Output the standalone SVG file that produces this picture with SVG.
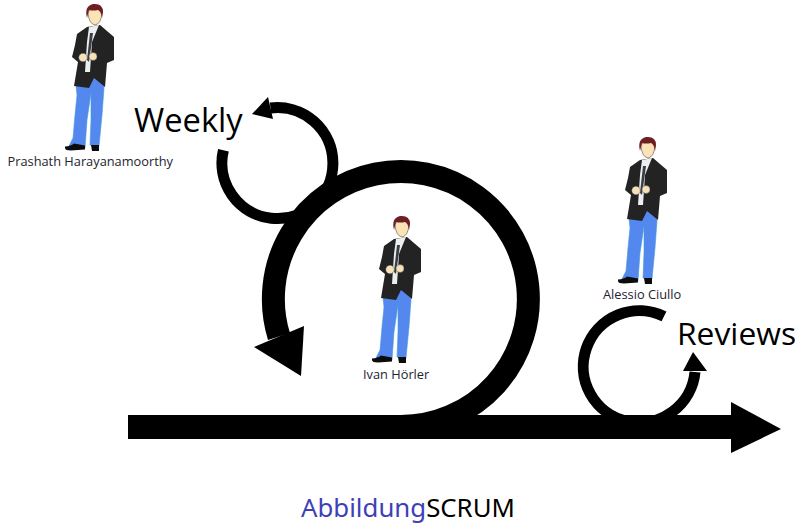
<svg xmlns="http://www.w3.org/2000/svg" width="795" height="524" viewBox="0 0 795 524">
<style>
text{font-family:"Open Sans","Noto Sans","DejaVu Sans",sans-serif;fill:#000}
.name{font-size:12.8px;fill:#1c2430}
.big{font-size:32.7px}
.rev{font-size:31.8px}
.cap{font-size:25.8px;font-family:"Noto Sans","Open Sans",sans-serif}
.arc{fill:none;stroke:#000}
.head{fill:#000}
</style>
<defs>
<g id="person">
<path d="M76 86 L77 95 L75 115 L73 138 L69 146 L85 148 L87 120 L91 93 L91 120 L90 145 L99 146 L102 115 L104 88 L103 78 L84 74 Z" fill="#5488ee" stroke="#3f9ad8" stroke-width=".6"/>
<path d="M65 146.500 Q71 146 74 143.500 L85 145.500 L85 149.500 L71 150.500 Q65 150.500 65 148 Z M91 145 L99 145 L99 151 L92 151 Z" fill="#0c0c0c"/>
<path d="M87 27 L77 34 L75 45 L72 57 L78 62 L74 86 L89 88 L94 78 L105 87 L107 63 L114 60 L114 37 L100 25 Z" fill="#232323"/>
<path d="M89 27 L99 25 L92 42 L90 72 L85 72 L87 42 Z" fill="#eceff0"/>
<path d="M90 33 L93 33 L89 62 L87 60 Z" fill="#3a3e44"/>
<path d="M88 13 Q89 24 95 25 Q101 24 102 13 L100 9 L90 9 Z" fill="#fbe3b8" stroke="#3a2a20" stroke-width=".5"/>
<path d="M87 18 Q84 6 93 4 Q103 3 103 12 L102 18 Q101 11 98 10 Q93 11 89 10 Z" fill="#6d1f22"/>
<circle cx="83" cy="57.500" r="4.300" fill="#f6e2ba" stroke="#333" stroke-width=".4"/>
<circle cx="93" cy="56.500" r="4" fill="#f6e2ba" stroke="#333" stroke-width=".4"/>
</g>
</defs>
<g id="connectors">
<rect x="128" y="415" width="604" height="24" class="head"/>
<polygon class="head" points="731,402 781,429 731,453"/>
<path class="arc" stroke-width="23" d="M401 426.500 A127.500 127.500 0 1 0 279 336.500"/>
<polygon class="head" points="254,347 304,326 301,376"/>
<path class="arc" stroke-width="11" d="M223.400 150.300 A55.500 55.500 0 1 0 270.500 108"/>
<polygon class="head" points="252,114 268,97 273,119"/>
<path class="arc" stroke-width="11" d="M664 316.400 A56 56 0 1 0 695 372"/>
<polygon class="head" points="693,352 683,371 707,371"/>
</g>
<g id="node-prashath">
<use href="#person"/>
<text class="name" x="7.500" y="166">Prashath Harayanamoorthy</text>
</g>
<g id="node-ivan">
<use href="#person" x="307" y="212"/>
<text class="name" x="363" y="379">Ivan Hörler</text>
</g>
<g id="node-alessio">
<use href="#person" x="553" y="133"/>
<text class="name" x="603" y="299">Alessio Ciullo</text>
</g>
<g id="label-weekly"><text class="big" x="134" y="132">Weekly</text></g>
<g id="label-reviews"><text class="rev" x="677" y="345">Reviews</text></g>
<g id="caption"><text class="cap" x="301" y="517"><tspan style="fill:#3f3fb8">Abbildung</tspan>SCRUM</text></g>
</svg>
